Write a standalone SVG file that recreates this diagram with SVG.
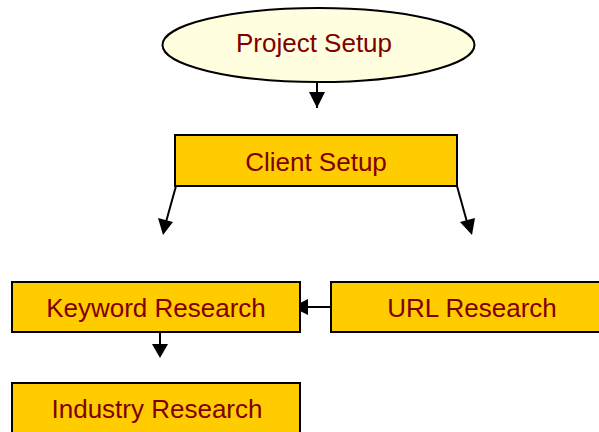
<svg xmlns="http://www.w3.org/2000/svg" width="599" height="432" viewBox="0 0 599 432">
<defs>
<style>
.box{fill:#FFCC00;stroke:#000;stroke-width:2}
.oval{fill:#FFFFE0;stroke:#000;stroke-width:2}
.t{font-family:"Liberation Sans",Arial,sans-serif;font-size:26px;fill:#800000;text-anchor:middle}
.c{stroke:#000;stroke-width:2;fill:none;marker-end:url(#ah)}
</style>
<marker id="ah" viewBox="0 0 10 10" refX="10" refY="5" markerWidth="8" markerHeight="8" markerUnits="userSpaceOnUse" orient="auto">
<path d="M0,0 L10,5 L0,10 Z" fill="#000"/>
</marker>
</defs>
<g id="connectors">
<line class="c" x1="317" y1="82" x2="317" y2="108" style="marker-end:none"/>
<path d="M309,92 L325,92 L317,108 Z" fill="#000"/>
<line x1="176" y1="186" x2="166" y2="222" stroke="#000" stroke-width="2"/>
<path d="M158,218 L173,222 L163,235 Z" fill="#000"/>
<line x1="457" y1="186" x2="467" y2="222" stroke="#000" stroke-width="2"/>
<path d="M460,222 L475,218 L472,235 Z" fill="#000"/>
<line x1="331" y1="307" x2="305" y2="307" stroke="#000" stroke-width="2"/>
<path d="M308,299 L308,315 L292,307 Z" fill="#000"/>
<line x1="160" y1="332" x2="160" y2="346" stroke="#000" stroke-width="2"/>
<path d="M152,344 L168,344 L160,358 Z" fill="#000"/>
</g>
<g id="project-setup">
<ellipse class="oval" cx="318.5" cy="45" rx="156" ry="37"/>
<text class="t" x="314" y="52">Project Setup</text>
</g>
<g id="client-setup">
<rect class="box" x="175" y="135" width="282" height="51"/>
<text class="t" x="316" y="171">Client Setup</text>
</g>
<g id="keyword-research">
<rect class="box" x="12" y="282" width="288" height="50"/>
<text class="t" x="156" y="317">Keyword Research</text>
</g>
<g id="url-research">
<rect class="box" x="331" y="282" width="282" height="50"/>
<text class="t" x="472" y="317">URL Research</text>
</g>
<g id="industry-research">
<rect class="box" x="12" y="383" width="288" height="60"/>
<text class="t" x="157" y="418">Industry Research</text>
</g>
</svg>
